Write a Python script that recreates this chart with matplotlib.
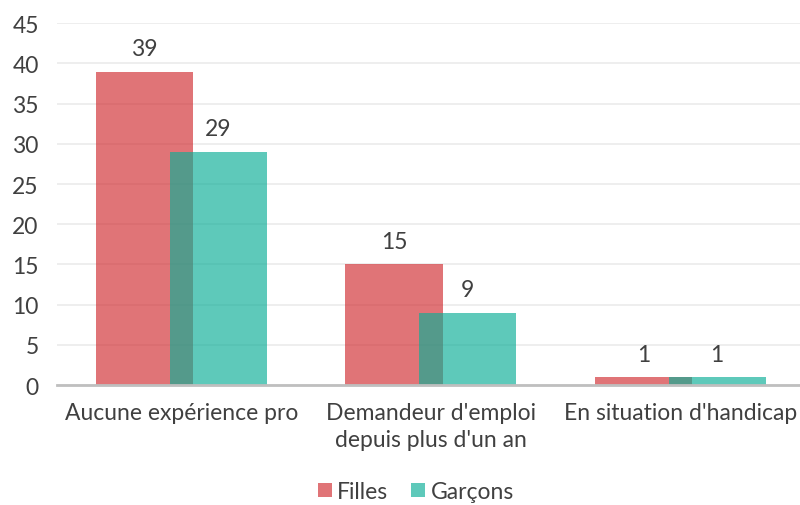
import matplotlib.pyplot as plt
import numpy as np

categories = ["Aucune expérience pro", "Demandeur d'emploi\ndepuis plus d'un an", "En situation d'handicap"]
filles = [39, 15, 1]
garcons = [29, 9, 1]

plt.rcParams['font.family'] = ['Lato', 'DejaVu Sans']
text_color = '#404040'
fs = 16.5

fig = plt.figure(figsize=(8, 5.06), dpi=100)
ax = fig.add_axes([0.071, 0.237, 0.929, 0.715])

x = np.arange(len(categories))
w = 0.39
off = 0.148
b1 = ax.bar(x - off, filles, w, color=(208/255, 44/255, 49/255), alpha=0.66, label='Filles', zorder=2)
b2 = ax.bar(x + off, garcons, w, color=(11/255, 174/255, 150/255), alpha=0.66, label='Garçons', zorder=3)

for bars in (b1, b2):
    for r in bars:
        ax.annotate(f"{int(r.get_height())}", (r.get_x() + r.get_width() / 2, r.get_height()),
                    xytext=(0, 9), textcoords='offset points', ha='center', va='bottom',
                    fontsize=fs, color=text_color)

ax.set_xlim(-0.5, 2.48)
ax.set_ylim(0, 45)
ax.set_yticks(range(0, 46, 5))
ax.set_xticks(x)
ax.set_xticklabels(categories, linespacing=1.35)
ax.tick_params(axis='both', length=0, labelsize=fs, colors=text_color)
ax.tick_params(axis='x', pad=12)
ax.tick_params(axis='y', pad=13)
ax.grid(axis='y', color='#EBEBEB', linewidth=1.2, zorder=0)
ax.set_axisbelow(True)
for s in ['top', 'right', 'left']:
    ax.spines[s].set_visible(False)
ax.spines['bottom'].set_color('#BFBFBF')
ax.spines['bottom'].set_linewidth(2)
ax.spines['bottom'].set_zorder(4)

fig.legend(loc='lower center', bbox_to_anchor=(0.52, -0.035), ncol=2, frameon=False,
           fontsize=fs, handlelength=0.6, handleheight=0.6, handletextpad=0.25,
           columnspacing=1.0, labelcolor=text_color)

fig.savefig('out.png', dpi=100)
